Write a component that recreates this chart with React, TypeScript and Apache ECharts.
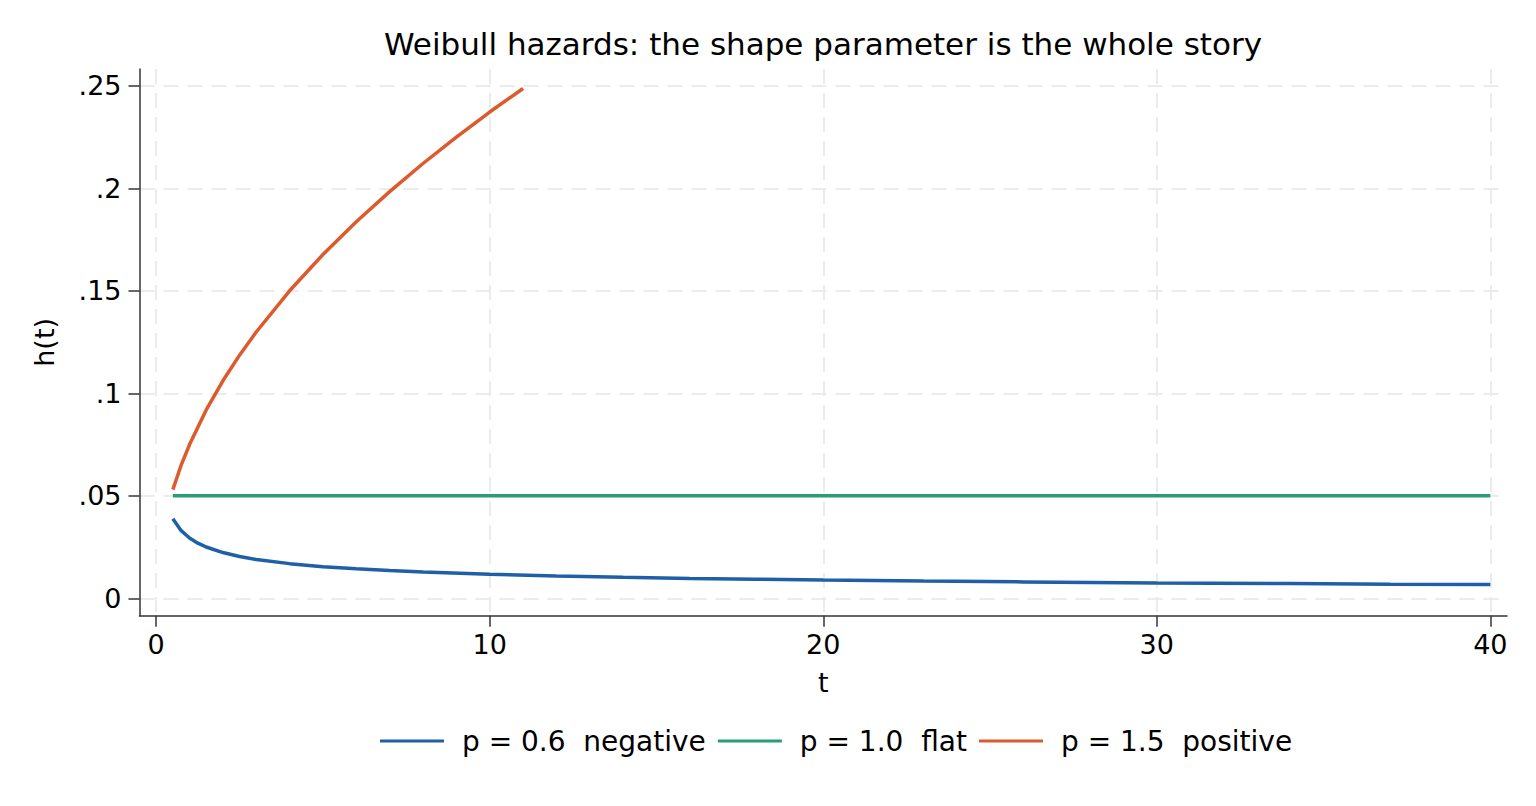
import React, { useEffect, useRef } from "react";
import * as echarts from "echarts";

const titleText = "Weibull hazards: the shape parameter is the whole story";
const xName = "t";
const yName = "h(t)";

const xTicks = [0, 10, 20, 30, 40];
const yTicks = [0, 0.05, 0.1, 0.15, 0.2, 0.25];

const seriesNames = ["p = 0.6  negative", "p = 1.0  flat", "p = 1.5  positive"];
const seriesColors = ["#1f5fa8", "#2a9d77", "#dc5a2c"];

// p = 0.6 (decreasing hazard)
const tNeg = [0.5, 0.75, 1, 1.25, 1.5, 2, 2.5, 3, 4, 5, 6, 7, 8, 10, 12, 14, 16, 18, 20, 23, 26, 30, 34, 37, 40];
const hNeg = [0.0388, 0.033, 0.0294, 0.0269, 0.025, 0.0223, 0.0204, 0.0189, 0.0169, 0.0154, 0.0144, 0.0135, 0.0128, 0.0117, 0.0109, 0.0102, 0.0097, 0.0093, 0.0089, 0.0084, 0.008, 0.0075, 0.0072, 0.0069, 0.0067];

// p = 1.0 (constant hazard)
const tFlat = [0.5, 10, 20, 30, 40];
const hFlat = [0.05, 0.05, 0.05, 0.05, 0.05];

// p = 1.5 (increasing hazard)
const tPos = [0.5, 0.75, 1, 1.5, 2, 2.5, 3, 4, 5, 6, 7, 8, 9, 10, 11];
const hPos = [0.053, 0.065, 0.075, 0.0919, 0.1061, 0.1186, 0.1299, 0.15, 0.1677, 0.1837, 0.1984, 0.2121, 0.225, 0.2372, 0.2487];

const pairs = (xs: number[], ys: number[]) => xs.map((x, i) => [x, ys[i]]);

const FONT = "DejaVu Sans";
const AXIS_COLOR = "#333";
const GRID_STYLE = { color: "#ebebeb", width: 2, type: [15, 9] as number[] };

export default function App() {
  const ref = useRef<HTMLDivElement>(null);

  useEffect(() => {
    if (!ref.current) return;
    const chart = echarts.init(ref.current, undefined, { renderer: "svg" });
    const yFmt = (v: number) => (v === 0 ? "0" : String(v).replace(/^0/, ""));
    chart.setOption({
      animation: false,
      backgroundColor: "#ffffff",
      textStyle: { fontFamily: FONT, color: "#000" },
      title: {
        text: titleText,
        left: 823,
        textAlign: "center",
        top: 28,
        padding: 0,
        textStyle: { fontFamily: FONT, fontSize: 31, fontWeight: "normal", color: "#000" },
      },
      grid: { left: 139.5, right: 29, top: 69, bottom: 190.3, containLabel: false },
      xAxis: {
        type: "value",
        min: -0.5,
        max: 40.5,
        name: xName,
        nameLocation: "middle",
        nameGap: 53,
        nameTextStyle: { fontFamily: FONT, fontSize: 27, color: "#000", verticalAlign: "top" },
        axisLine: { show: true, onZero: false, lineStyle: { color: AXIS_COLOR, width: 1.5 } },
        axisTick: { show: true, length: 11, lineStyle: { color: AXIS_COLOR, width: 1.5 }, customValues: xTicks },
        axisLabel: { fontFamily: FONT, fontSize: 27, color: "#000", margin: 15, customValues: xTicks },
        splitLine: { show: true, lineStyle: GRID_STYLE },
      },
      yAxis: {
        type: "value",
        min: -0.0085,
        max: 0.2582,
        name: yName,
        nameLocation: "middle",
        nameGap: 82,
        nameRotate: 90,
        nameTextStyle: { fontFamily: FONT, fontSize: 27, color: "#000" },
        axisLine: { show: true, onZero: false, lineStyle: { color: AXIS_COLOR, width: 1.5 } },
        axisTick: { show: true, length: 11, lineStyle: { color: AXIS_COLOR, width: 1.5 }, customValues: yTicks },
        axisLabel: { fontFamily: FONT, fontSize: 27, color: "#000", margin: 18, customValues: yTicks, formatter: yFmt },
        splitLine: { show: true, lineStyle: GRID_STYLE },
      },
      legend: {
        left: 380,
        top: 727,
        padding: 0,
        icon: "rect",
        itemWidth: 64,
        itemHeight: 3,
        itemGap: 12,
        textStyle: { fontFamily: FONT, fontSize: 28, color: "#000", padding: [0, 0, 0, 13] },
        data: seriesNames,
      },
      series: [
        { name: seriesNames[0], type: "line", data: pairs(tNeg, hNeg) },
        { name: seriesNames[1], type: "line", data: pairs(tFlat, hFlat) },
        { name: seriesNames[2], type: "line", data: pairs(tPos, hPos) },
      ].map((s, i) => ({
        ...s,
        symbol: "none",
        showSymbol: false,
        color: seriesColors[i],
        lineStyle: { color: seriesColors[i], width: 3.5 },
        z: 3,
      })),
    });
    return () => chart.dispose();
  }, []);

  return <div ref={ref} style={{ position: "fixed", left: 0, top: 0, width: "100vw", height: "100vh" }} />;
}
